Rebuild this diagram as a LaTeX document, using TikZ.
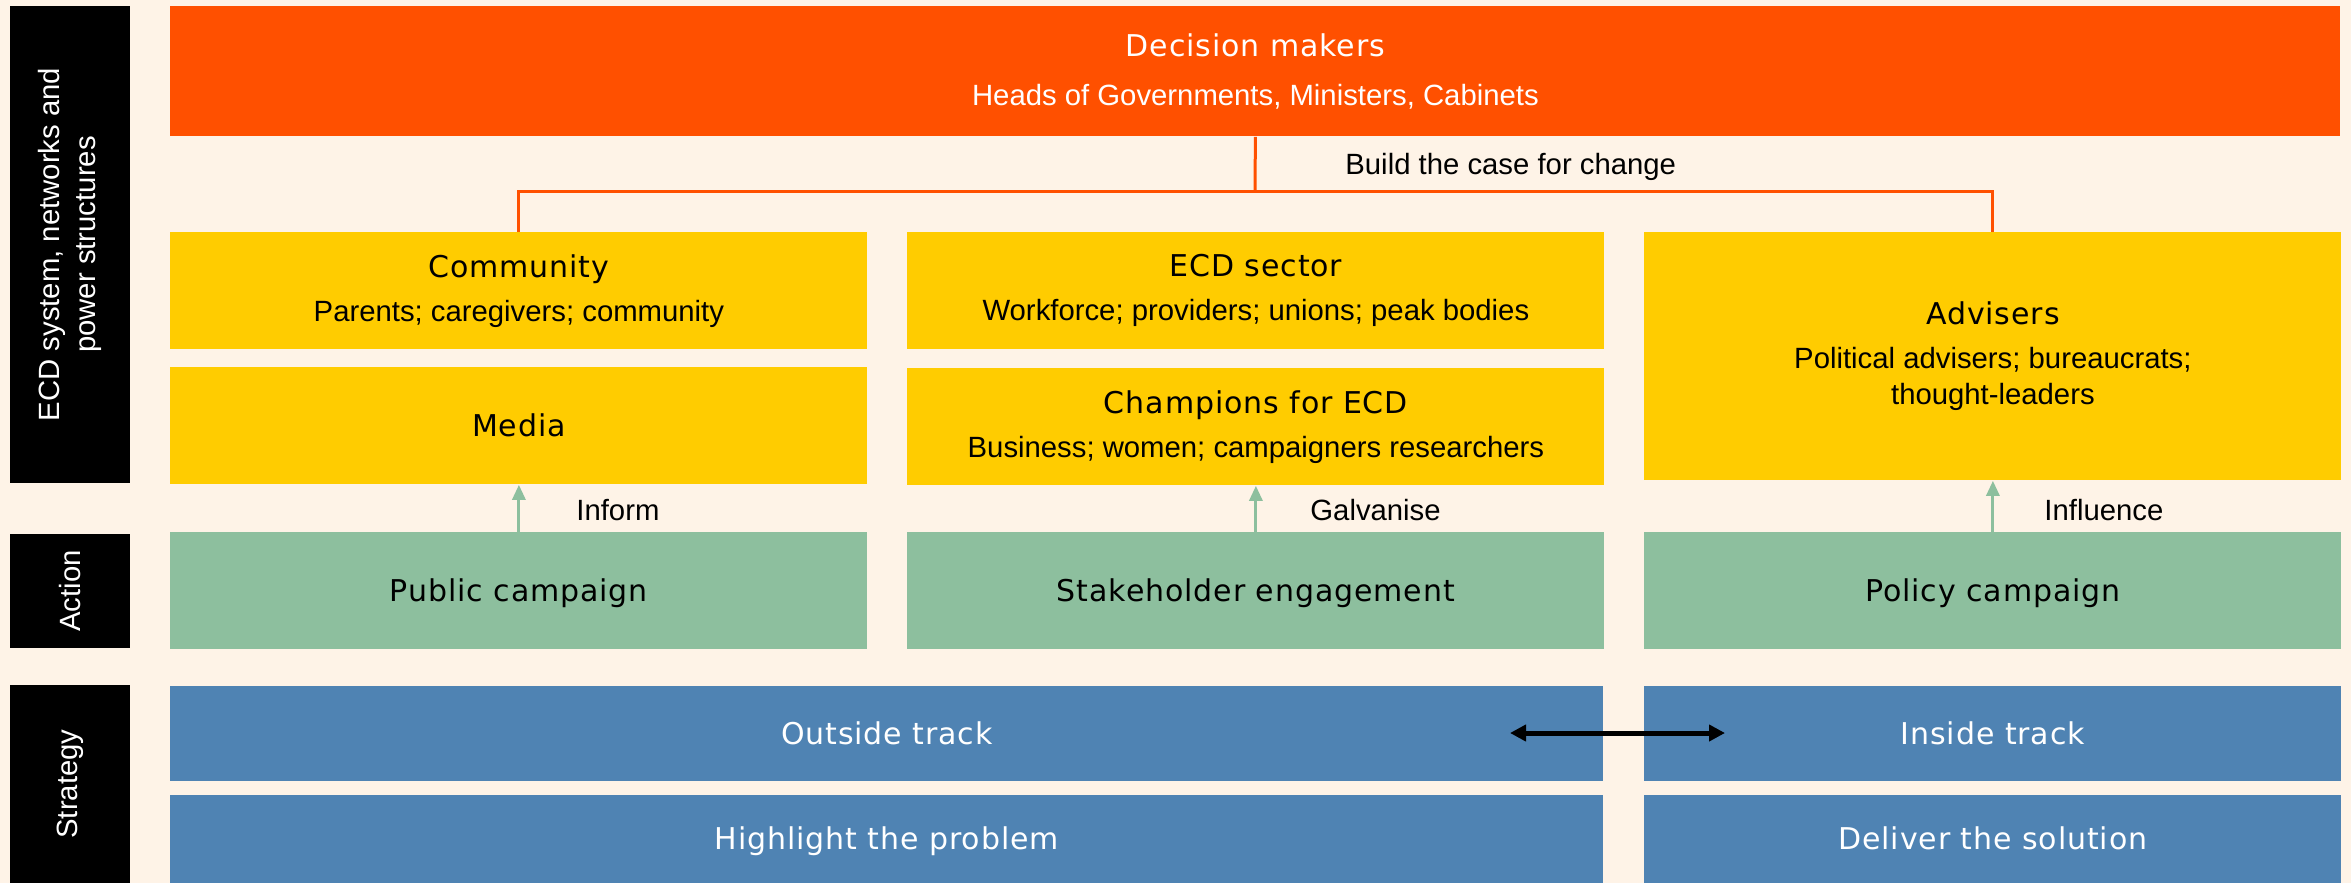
\documentclass[tikz,border=0pt]{standalone}
\usepackage{fontspec}
\setmainfont{Liberation Sans}
\newfontfamily\ttlfont[LetterSpace=3]{DejaVu Sans}
\usetikzlibrary{arrows.meta}
\definecolor{cream}{HTML}{FEF3E7}
\definecolor{decorange}{HTML}{FF5000}
\definecolor{ecdyellow}{HTML}{FFCC00}
\definecolor{actgreen}{HTML}{8DBF9E}
\definecolor{strblue}{HTML}{4F83B3}
\newcommand\colw{348.5pt}
\newcommand\widew{716.5pt}
\newcommand\fullw{1085pt}
\newcommand\boxh{58.5pt}
\newcommand\advh{124pt}
\newcommand\trackh{47.5pt}
\newcommand\solh{44pt}
\newcommand\boxtitle[1]{{\ttlfont\fontsize{15}{18}\selectfont #1}}

\tikzset{
  box/.style={anchor=north west, inner sep=0pt, align=center, minimum width=\colw,
    minimum height=\boxh, font=\fontsize{14.65}{18}\selectfont},
  oneline/.style={text height=12pt, text depth=1.5pt},
  dmbox/.style={box, fill=decorange, text=white},
  sysbox/.style={box, fill=ecdyellow},
  actbox/.style={box, oneline, fill=actgreen},
  strbox/.style={box, oneline, fill=strblue, text=white, minimum height=\trackh},
  sidebar/.style={fill=black, text=white, rotate=90, inner sep=0pt, align=center,
    minimum height=60pt, font=\fontsize{14.65}{18}\selectfont},
  linkline/.style={draw=decorange, line width=1.5pt},
  pusharrow/.style={draw=actgreen, line width=1.5pt, -{Triangle[length=7.5pt,width=6.5pt]}},
  trackarrow/.style={line width=2.5pt, {Triangle[length=8pt,width=8pt]}-{Triangle[length=8pt,width=8pt]}},
  lbl/.style={anchor=west, inner sep=0pt, font=\fontsize{14.65}{18}\selectfont}
}

\begin{document}
\begin{tikzpicture}[x=0.5pt,y=-0.5pt]
    \fill[cream] (0,0) rectangle (2351,883);

    \node[sidebar, minimum width=238.5pt] (sysbar) at (70,244.5) {ECD system, networks and\\power structures};
    \node[sidebar, minimum width=57pt] (actbar) at (70,591) {Action};
    \node[sidebar, minimum width=99pt] (strbar) at (70,784) {Strategy};

    \begin{scope}
      \node[dmbox, minimum width=\fullw, minimum height=65pt] (dm) at (170,6)
        {\boxtitle{Decision makers}\\[6.5pt]Heads of Governments, Ministers, Cabinets};

      \node[sysbox] (comm) at (170,232) {\boxtitle{Community}\\[4pt]Parents; caregivers; community};
      \node[sysbox] (ecd) at (907,232) {\boxtitle{ECD sector}\\[4pt]Workforce; providers; unions; peak bodies};
      \node[sysbox, minimum height=\advh] (adv) at (1644,232)
        {\boxtitle{Advisers}\\[4pt]Political advisers; bureaucrats;\\thought-leaders};
      \node[sysbox, oneline] (media) at (170,367) {\boxtitle{Media}};
      \node[sysbox] (champ) at (907,368) {\boxtitle{Champions for ECD}\\[4pt]Business; women; campaigners researchers};

      \coordinate (split) at (1255,191);
      \draw[linkline] (dm.south) -- (split);
      \draw[linkline] (comm.north) |- (split) -| (adv.north);
      \node[lbl] (case) at (1345,167) {Build the case for change};
    \end{scope}

    \begin{scope}
      \node[actbox] (pub) at (170,532) {\boxtitle{Public campaign}};
      \node[actbox] (stake) at (907,532) {\boxtitle{Stakeholder engagement}};
      \node[actbox] (pol) at (1644,532) {\boxtitle{Policy campaign}};

      \draw[pusharrow] (pub.north) -- (media.south);
      \draw[pusharrow] (stake.north) -- (champ.south);
      \draw[pusharrow] (pol.north) -- (adv.south);
      \node[lbl] (inform) at (576,510) {Inform};
      \node[lbl] (galv) at (1310,510) {Galvanise};
      \node[lbl] (infl) at (2044,510) {Influence};
    \end{scope}

    \begin{scope}
      \node[strbox, minimum width=\widew] (outside) at (170,686) {\boxtitle{Outside track}};
      \node[strbox] (inside) at (1644,686) {\boxtitle{Inside track}};
      \node[strbox, minimum width=\widew, minimum height=\solh] (problem) at (170,795) {\boxtitle{Highlight the problem}};
      \node[strbox, minimum height=\solh] (solution) at (1644,795) {\boxtitle{Deliver the solution}};

      \coordinate (outend) at (1510,733);
      \coordinate (inend) at (1725,733);
      \draw[trackarrow] (outend) -- (inend);
    \end{scope}
\end{tikzpicture}
\end{document}
